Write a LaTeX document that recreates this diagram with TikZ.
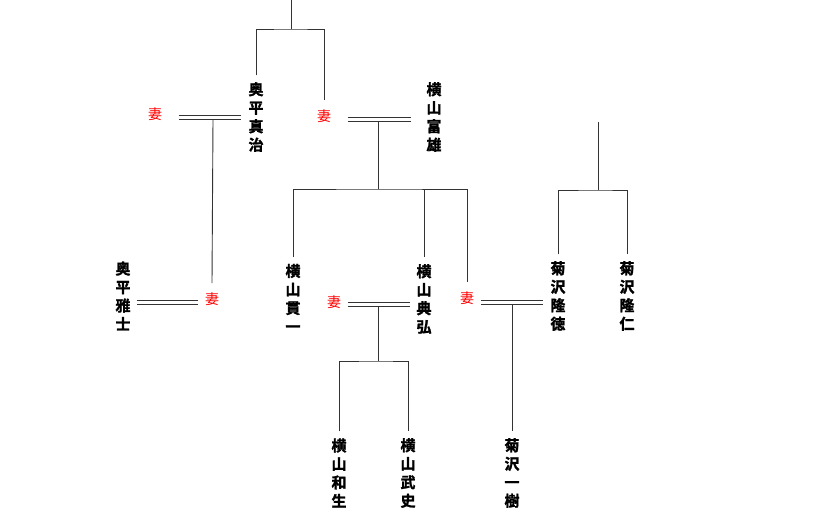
\documentclass[tikz,border=0pt]{standalone}
\usepackage{fontspec}
\newfontfamily\jp{Noto Sans CJK JP}[BoldFont = {Noto Sans CJK JP Bold},
                                    BoldFeatures = {FakeBold = 1.6}]
\begin{document}
\begin{tikzpicture}
        [x = 1pt, y = -1pt, line width = .9pt,
         person/.style = {font = \jp\bfseries\fontsize{15}{18.5}\selectfont,
                          align = center, inner xsep = 3pt, inner ysep = 6.5pt},
         wife/.style = {font = \jp\fontsize{14}{14}\selectfont, text = red,
                        inner xsep = 3.5pt, inner ysep = 9pt},
         kin/.style = {draw = black!80},
         marriage/.style = {draw = black!80, shorten <= 3pt, shorten >= 3pt}]

        \useasboundingbox (0,0) rectangle (819,520);

        \foreach \id/\txt/\x/\y in {
            shinji/奥\\平\\真\\治/256/117, tomio/横\\山\\富\\雄/434/117,
            masashi/奥\\平\\雅\\士/123/296, kanichi/横\\山\\貫\\一/293/298,
            norihiro/横\\山\\典\\弘/424/299, takanori/菊\\沢\\隆\\徳/558/296,
            takahito/菊\\沢\\隆\\仁/627/296, kazuo/横\\山\\和\\生/339/473,
            takeshi/横\\山\\武\\史/408/473, kazuki/菊\\沢\\一\\樹/512/473}
          \node[person] (\id) at (\x,\y) {\txt};

        \foreach \id/\x/\y in {wifeS/155/114, wifeT/324/116, wifeM/212/299,
                               wifeN/334/302, wifeK/467/298}
          \node[wife] (\id) at (\x,\y) {妻};

        \coordinate (top1) at (291,0);
        \coordinate (fork1) at (291,29);
        \coordinate (top2) at (598,122);
        \coordinate (fork2) at (598,190);
        \coordinate (fork3) at (378,189);
        \coordinate (fork4) at (378,361);
        % centre of each marriage line
        \coordinate (mS) at (213,117);
        \coordinate (mT) at (378,119);
        \coordinate (mM) at (168,302);
        \coordinate (mN) at (378,304);
        \coordinate (mK) at (512,302);

        % lines of descent
        \draw[kin] (top1) -- (fork1);
        \draw[kin] (shinji.north) |- (fork1) -| (wifeT.north);
        \draw[kin] ([yshift=-2pt]mS) -- (wifeM.north);
        \draw[kin] ([yshift=-2pt]mT) -- (fork3);
        \draw[kin] (kanichi.north) |- (fork3) -| (wifeK.north);
        \draw[kin] (norihiro.north) -- (norihiro.north |- fork3);
        \draw[kin] ([yshift=-2pt]mN) -- (fork4);
        \draw[kin] (kazuo.north) |- (fork4) -| (takeshi.north);
        \draw[kin] ([yshift=-2pt]mK) -- (kazuki.north);
        \draw[kin] (top2) -- (fork2);
        \draw[kin] (takanori.north) |- (fork2) -| (takahito.north);

        % marriages, two lines each
        \foreach \s in {-2,2}
        {
          \begin{scope}[transform canvas = {yshift = \s pt}]
            \draw[marriage, shorten <= 13pt, shorten >= 4pt]
              (wifeS.east |- mS) -- (shinji.west |- mS);
            \draw[marriage, shorten <= 13pt, shorten >= 12pt]
              (wifeT.east |- mT) -- (tomio.west |- mT);
            \draw[marriage] (masashi.east |- mM) -- (wifeM.west |- mM);
            \draw[marriage] (wifeN.east |- mN) -- (norihiro.west |- mN);
            \draw[marriage, shorten >= 4pt]
              (wifeK.east |- mK) -- (takanori.west |- mK);
          \end{scope}
        }
      \end{tikzpicture}
\end{document}
